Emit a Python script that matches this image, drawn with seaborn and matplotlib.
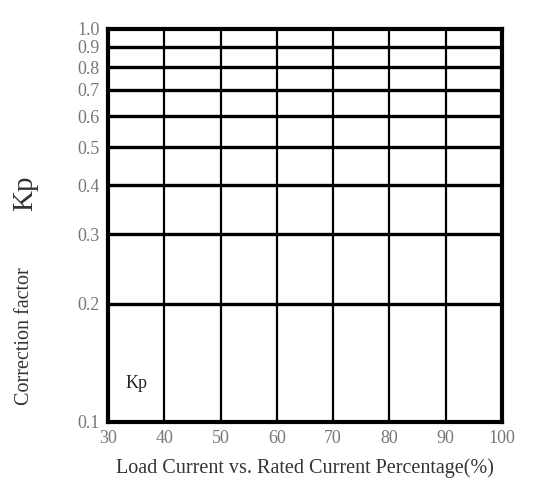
import matplotlib.pyplot as plt
import seaborn as sns
from matplotlib.ticker import FixedLocator, NullLocator

x_ticks = [30, 40, 50, 60, 70, 80, 90, 100]
y_ticks = [0.1, 0.2, 0.3, 0.4, 0.5, 0.6, 0.7, 0.8, 0.9, 1.0]
y_labels = ['0.1', '0.2', '0.3', '0.4', '0.5', '0.6', '0.7', '0.8', '0.9', '1.0']

sns.set_style('white')
plt.rcParams['font.family'] = ['Liberation Serif', 'DejaVu Serif']

fig = plt.figure(figsize=(5.52, 5.0), dpi=100)
ax = fig.add_axes([108 / 552, 78 / 500, 394 / 552, 393 / 500])
ax.set_yscale('log')
ax.set_xlim(30, 100)
ax.set_ylim(0.1, 1.0)

for x in x_ticks[1:-1]:
    ax.axvline(x, color='black', lw=1.6)
for y in y_ticks[1:-1]:
    ax.axhline(y, color='black', lw=2.4)

ax.xaxis.set_major_locator(FixedLocator(x_ticks))
ax.yaxis.set_major_locator(FixedLocator(y_ticks))
ax.yaxis.set_minor_locator(NullLocator())
ax.set_yticklabels(y_labels)
ax.tick_params(length=0, labelsize=13, colors='#777777', pad=6)

for s in ax.spines.values():
    s.set_linewidth(3)
    s.set_color('black')

ax.text(35, 0.125, 'Kp', fontsize=13, ha='center', va='center')
ax.set_xlabel('Load Current vs. Rated Current Percentage(%)', fontsize=14.5,
              color='#333333', labelpad=8)
fig.text(0.045, 0.19, 'Correction factor', rotation=90, fontsize=14.5,
         color='#333333', va='bottom', ha='center')
fig.text(0.045, 0.578, 'Kp', rotation=90, fontsize=21, color='#333333',
         va='bottom', ha='center')

fig.savefig('out.png', dpi=100)
